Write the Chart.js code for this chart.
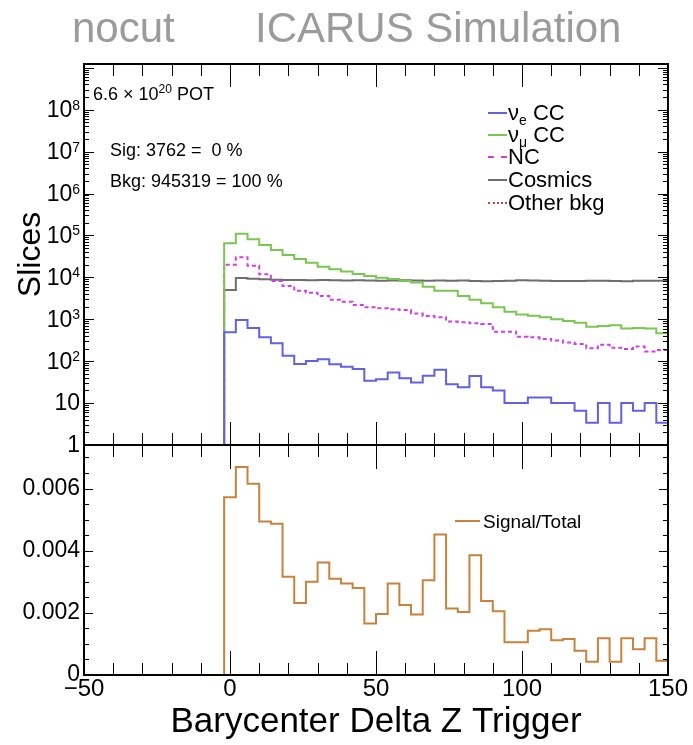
<!DOCTYPE html>
<html>
<head>
<meta charset="utf-8">
<script src="https://cdn.jsdelivr.net/npm/chart.js@4.4.1/dist/chart.umd.min.js"></script>
<style>
  html, body { margin: 0; padding: 0; background: #fff; }
  #wrap { position: relative; width: 693px; height: 745px; font-family: "Liberation Sans", Arial, sans-serif; }
  #wrap canvas { position: absolute; left: 0; top: 0; }
  .txt { position: absolute; white-space: nowrap; color: #000; line-height: 1; }
  .sample { position: absolute; height: 0; width: 19px; border-top-width: 2px; }
</style>
</head>
<body>
<div id="wrap">
  <canvas id="topChart" width="693" height="745"></canvas>
  <canvas id="ratioChart" width="693" height="745"></canvas>

  <div class="txt" style="left:72px; top:7px; font-size:42px; color:#9b9b9b;">nocut</div>
  <div class="txt" style="left:255px; top:7px; font-size:42px; color:#9b9b9b;">ICARUS Simulation</div>

  <div class="txt" style="left:93px; top:85px; font-size:18px;">6.6 × 10<span style="font-size:12px; position:relative; top:-7px;">20</span> POT</div>
  <div class="txt" style="left:110px; top:141px; font-size:18px;">Sig: 3762 =&nbsp; 0 %</div>
  <div class="txt" style="left:110px; top:172px; font-size:18px;">Bkg: 945319 = 100 %</div>

  <div class="sample" style="left:488px; top:112px; border-top-style:solid; border-color:#6060e8;"></div>
  <div class="txt" style="left:508px; top:102px; font-size:22px;">ν<span style="font-size:14px; position:relative; top:5px;">e</span> CC</div>
  <div class="sample" style="left:488px; top:134px; border-top-style:solid; border-color:#78c850;"></div>
  <div class="txt" style="left:508px; top:124px; font-size:22px;">ν<span style="font-size:14px; position:relative; top:5px;">μ</span> CC</div>
  <div class="sample" style="left:488px; top:156px; border-top-style:dashed; border-color:#d23ee6;"></div>
  <div class="txt" style="left:508px; top:146px; font-size:22px;">NC</div>
  <div class="sample" style="left:488px; top:179px; border-top-style:solid; border-color:#6e6e6e;"></div>
  <div class="txt" style="left:508px; top:169px; font-size:22px;">Cosmics</div>
  <div class="sample" style="left:488px; top:202px; border-top-style:dotted; border-color:#d04040;"></div>
  <div class="txt" style="left:508px; top:192px; font-size:22px;">Other bkg</div>

  <div class="sample" style="left:455px; top:520px; width:25px; border-top-style:solid; border-color:#c8823c;"></div>
  <div class="txt" style="left:483px; top:512px; font-size:19px;">Signal/Total</div>
</div>

<script>
// binning: 50 bins of width 4 from -50 to 150
const xMin = -50;
const xMax = 150;
const binWidth = 4;

// slices per bin (first 12 bins are empty)
const nueCC = [0, 0, 0, 0, 0, 0, 0, 0, 0, 0, 0, 0,
    490, 960, 615, 372, 267, 135, 86, 101, 111, 85, 74, 65, 34, 37, 54, 39, 31, 45, 62,
    28, 24, 44, 24, 20, 10, 10, 13.5, 13.5, 10, 10, 6.6, 3.4, 10, 3.4, 10, 6.6, 10, 3.4];
const numuCC = [0, 0, 0, 0, 0, 0, 0, 0, 0, 0, 0, 0,
    65000, 109000, 81000, 59000, 45000, 34000, 27500, 22400, 18000, 15600, 13700, 12000,
    10800, 9800, 9100, 8200, 7500, 6000, 4800, 4800, 3600, 2900, 2400, 1940, 1520, 1290,
    1220, 1120, 1000, 910, 830, 665, 690, 720, 600, 615, 600, 465];
const nc = [0, 0, 0, 0, 0, 0, 0, 0, 0, 0, 0, 0,
    20000, 30000, 19000, 11800, 8200, 6200, 4800, 4300, 3600, 2900, 2600, 2200, 1940,
    1830, 1740, 1660, 1380, 1200, 1120, 880, 850, 800, 770, 505, 505, 385, 370, 340, 310,
    277, 257, 204, 245, 210, 195, 223, 169, 185];
const cosmics = [0, 0, 0, 0, 0, 0, 0, 0, 0, 0, 0, 0,
    5000, 9600, 9300, 9000, 8800, 8600, 8700, 8500, 8600, 8500, 8400, 8500, 8400, 8300,
    8400, 8500, 8400, 8300, 8400, 8300, 8400, 8200, 8100, 8200, 8300, 8500, 8400, 8300,
    8200, 8200, 8200, 8300, 8300, 8200, 8100, 8300, 8300, 8300];
const otherBkg = [0, 0, 0, 0, 0, 0, 0, 0, 0, 0, 0, 0, 0, 0, 0, 0, 0, 0, 0, 0, 0, 0, 0, 0, 0,
    0, 0, 0, 0, 0, 0, 0, 0, 0, 0, 0, 0, 0, 0, 0, 0, 0, 0, 0, 0, 0, 0, 0, 0, 0];
const sigOverTotal = [0, 0, 0, 0, 0, 0, 0, 0, 0, 0, 0, 0,
    0.00572, 0.00669, 0.00615, 0.00494, 0.00487, 0.00316, 0.00232, 0.00300, 0.00362,
    0.00310, 0.00294, 0.00280, 0.00166, 0.00196, 0.00294, 0.00225, 0.00195, 0.00305,
    0.00452, 0.00214, 0.00203, 0.00385, 0.00238, 0.00205, 0.00105, 0.00105, 0.00142,
    0.00147, 0.00112, 0.00116, 0.00078, 0.00043, 0.00118, 0.00043, 0.00118, 0.00083,
    0.00118, 0.00046];

// y tick labels of the log panel: base + exponent
const logDecades = [1, 10, 1e2, 1e3, 1e4, 1e5, 1e6, 1e7, 1e8];
const logBase = ['1', '10', '10', '10', '10', '10', '10', '10', '10'];
const logExp = ['', '', '2', '3', '4', '5', '6', '7', '8'];
const ratioTicks = [0, 0.002, 0.004, 0.006];
const ratioLabels = ['0', '0.002', '0.004', '0.006'];
const xTickLabels = ['\u221250', '0', '50', '100', '150'];

const logMin = 1, logMax = 1.23e9;
const ratioMax = 0.0074;
const fontFamily = '"Liberation Sans", Arial, sans-serif';

// turn bin contents into step points (left edges + closing right edge)
function histPoints(values, floor) {
    let pts = values.map((v, i) => ({x: xMin + i * binWidth, y: v > 0 ? v : floor}));
    pts.push({x: xMax, y: pts[pts.length - 1].y});
    return pts;
}

function histSet(label, values, color, floor, dash) {
    return {
        label: label,
        data: histPoints(values, floor),
        borderColor: color,
        borderWidth: 2,
        borderDash: dash || [],
        stepped: true,
        pointRadius: 0,
        fill: false
    };
}

// ROOT style frame with inward ticks on all four sides
const rootFrame = {
    id: 'rootFrame',
    afterDraw(chart, args, opts) {
        const {ctx, chartArea: a, scales} = chart;
        const xs = scales.x, ys = scales.y;
        ctx.save();
        ctx.strokeStyle = '#000';
        ctx.lineWidth = 1;
        ctx.beginPath();
        for (let v = xMin; v <= xMax; v += 10) {
            const px = Math.round(xs.getPixelForValue(v)) + 0.5;
            const len = (v % 50 === 0) ? opts.xMajor : opts.xMinor;
            ctx.moveTo(px, a.bottom); ctx.lineTo(px, a.bottom - len);
            ctx.moveTo(px, a.top); ctx.lineTo(px, a.top + len);
        }
        opts.yTicks.forEach(t => {
            const py = Math.round(ys.getPixelForValue(t.v)) + 0.5;
            ctx.moveTo(a.left, py); ctx.lineTo(a.left + t.len, py);
            ctx.moveTo(a.right, py); ctx.lineTo(a.right - t.len, py);
        });
        ctx.stroke();
        ctx.lineWidth = 2;
        ctx.strokeRect(a.left, a.top, a.right - a.left, a.bottom - a.top);

        // power-of-ten labels with a real raised exponent
        if (opts.powerLabels) {
            ctx.fillStyle = '#000';
            const right = a.left - 4;
            logDecades.forEach((d, i) => {
                const py = ys.getPixelForValue(d);
                let x = right;
                if (logExp[i]) {
                    ctx.font = '14px ' + fontFamily;
                    ctx.textAlign = 'right';
                    ctx.textBaseline = 'alphabetic';
                    ctx.fillText(logExp[i], x, py);
                    x -= ctx.measureText(logExp[i]).width;
                }
                ctx.font = '23px ' + fontFamily;
                ctx.textAlign = 'right';
                ctx.textBaseline = 'middle';
                ctx.fillText(logBase[i], x, py + 1);
            });
        }
        ctx.restore();
    }
};

let logTicks = [];
logDecades.concat([1e9]).forEach(d => {
    for (let m = 1; m <= 9; m++) {
        const v = d * m;
        if (v <= logMax) logTicks.push({v: v, len: m === 1 ? 10 : 5});
    }
});
let linTicks = [];
for (let k = 0; k * 0.0005 <= ratioMax; k++) {
    linTicks.push({v: k * 0.0005, len: k % 4 === 0 ? 9 : 5});
}

const tickFont = {family: fontFamily, size: 23};

new Chart(document.getElementById('topChart'), {
    type: 'line',
    data: {
        datasets: [
            histSet('nue CC', nueCC, '#6060e8', logMin),
            histSet('numu CC', numuCC, '#78c850', logMin),
            histSet('NC', nc, '#d23ee6', logMin, [4, 3]),
            histSet('Cosmics', cosmics, '#6e6e6e', logMin),
            histSet('Other bkg', otherBkg, '#d04040', logMin, [2, 2])
        ]
    },
    options: {
        responsive: false,
        animation: false,
        layout: {padding: {left: 0, top: 64, right: 25, bottom: 300}},
        scales: {
            x: {
                type: 'linear', min: xMin, max: xMax,
                display: false
            },
            y: {
                type: 'logarithmic', min: logMin, max: logMax,
                afterFit: s => { s.width = 84; },
                grid: {display: false, drawTicks: false},
                border: {display: false},
                ticks: {display: false},
                title: {
                    display: true,
                    text: 'Slices',
                    color: '#000',
                    font: {family: fontFamily, size: 32, lineHeight: 1.2},
                    padding: {top: 12, bottom: 0}
                }
            }
        },
        plugins: {
            legend: {display: false},
            tooltip: {enabled: false},
            rootFrame: {xMajor: 23, xMinor: 12, yTicks: logTicks, powerLabels: true}
        }
    },
    plugins: [rootFrame]
});

new Chart(document.getElementById('ratioChart'), {
    type: 'line',
    data: {
        datasets: [
            histSet('Signal/Total', sigOverTotal, '#c8823c', 0)
        ]
    },
    options: {
        responsive: false,
        animation: false,
        layout: {padding: {left: 0, top: 445, right: 25, bottom: 0}},
        scales: {
            x: {
                type: 'linear', min: xMin, max: xMax,
                afterFit: s => { s.height = 70; s.paddingLeft = 0; s.paddingRight = 0; },
                grid: {display: false, drawTicks: false},
                border: {display: false},
                ticks: {
                    stepSize: 50,
                    maxRotation: 0,
                    padding: 0,
                    color: '#000',
                    font: {family: fontFamily, size: 24},
                    callback: v => {
                        const i = [-50, 0, 50, 100, 150].indexOf(v);
                        return i < 0 ? '' : xTickLabels[i];
                    }
                },
                title: {
                    display: true,
                    text: 'Barycenter Delta Z Trigger',
                    color: '#000',
                    font: {family: fontFamily, size: 35, lineHeight: 1.2},
                    padding: {top: 0, bottom: 2}
                }
            },
            y: {
                type: 'linear', min: 0, max: ratioMax,
                afterFit: s => { s.width = 84; },
                grid: {display: false, drawTicks: false},
                border: {display: false},
                ticks: {
                    stepSize: 0.002,
                    includeBounds: false,
                    autoSkip: false,
                    padding: 4,
                    color: '#000',
                    font: tickFont,
                    callback: v => {
                        const i = ratioTicks.findIndex(t => Math.abs(t - v) < 1e-7);
                        return i < 0 ? '' : ratioLabels[i];
                    }
                }
            }
        },
        plugins: {
            legend: {display: false},
            tooltip: {enabled: false},
            rootFrame: {xMajor: 24, xMinor: 12, yTicks: linTicks}
        }
    },
    plugins: [rootFrame]
});
</script>
</body>
</html>
